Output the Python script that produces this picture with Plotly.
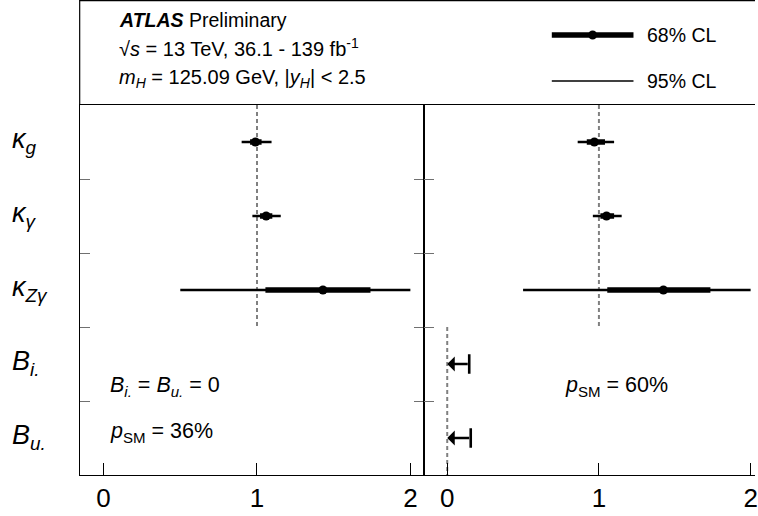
import plotly.graph_objects as go

W, H = 758, 516
FONT = "Liberation Sans, Arial, sans-serif"

# Parameter rows, top to bottom
row_labels = [
    "<i>κ</i><sub><i>g</i></sub>",
    "<i>κ</i><sub><i>γ</i></sub>",
    "<i>κ</i><sub><i>Zγ</i></sub>",
    "<i>B</i><sub><i>i.</i></sub>",
    "<i>B</i><sub><i>u.</i></sub>",
]
kappa_rows = [0, 1, 2]
br_rows = [3, 4]

# Fit with B_i. = B_u. = 0 (left panel)
fixed_best = [0.99, 1.06, 1.43]
fixed_lo68 = [0.955, 1.02, 1.055]
fixed_hi68 = [1.03, 1.10, 1.74]
fixed_lo95 = [0.90, 0.97, 0.50]
fixed_hi95 = [1.095, 1.155, 2.00]

# Fit with B_i., B_u. free (right panel)
free_best = [0.97, 1.05, 1.425]
free_lo68 = [0.92, 1.01, 1.055]
free_hi68 = [1.04, 1.10, 1.735]
free_lo95 = [0.86, 0.96, 0.50]
free_hi95 = [1.10, 1.15, 2.00]
br_limit95 = [0.145, 0.155]

x_ticks = [0, 1, 2]
x_ticktext = ["0", "1", "2"]
sm_value_kappa = 1
sm_value_br = 0


def segments(lo, hi, rows):
    xs, ys = [], []
    for a, b, r in zip(lo, hi, rows):
        xs += [a, b, None]
        ys += [r, r, None]
    return xs, ys


fig = go.Figure()

panels = [
    ("x", "y", fixed_best, fixed_lo68, fixed_hi68, fixed_lo95, fixed_hi95),
    ("x2", "y2", free_best, free_lo68, free_hi68, free_lo95, free_hi95),
]
for xa, ya, best, lo68, hi68, lo95, hi95 in panels:
    xs, ys = segments(lo95, hi95, kappa_rows)
    fig.add_trace(go.Scatter(x=xs, y=ys, xaxis=xa, yaxis=ya, mode="lines",
                             line=dict(color="black", width=2.4)))
    xs, ys = segments(lo68, hi68, kappa_rows)
    fig.add_trace(go.Scatter(x=xs, y=ys, xaxis=xa, yaxis=ya, mode="lines",
                             line=dict(color="black", width=5.5)))
    fig.add_trace(go.Scatter(x=best, y=kappa_rows, xaxis=xa, yaxis=ya, mode="markers",
                             marker=dict(color="black", size=9)))

# Upper limits on the BSM branching ratios: cap at the limit
fig.add_trace(go.Scatter(x=br_limit95, y=br_rows, xaxis="x2", yaxis="y2", mode="markers",
                         marker=dict(symbol="line-ns", size=14,
                                     line=dict(color="black", width=2.6))))

annotations = []
for lim, r in zip(br_limit95, br_rows):
    annotations.append(dict(x=sm_value_br, y=r, xref="x2", yref="y2",
                            ax=lim, ay=r, axref="x2", ayref="y2", text="",
                            showarrow=True, arrowhead=1, arrowsize=1,
                            arrowwidth=2.5, arrowcolor="black"))

# SM reference lines
shapes = []
dash = dict(color="#808080", width=2, dash="4px,3px")
for xr, yr in [("x", "y"), ("x2", "y2")]:
    shapes.append(dict(type="line", xref=xr, yref=yr, x0=sm_value_kappa, x1=sm_value_kappa,
                       y0=-0.5, y1=2.5, line=dash, layer="below"))
shapes.append(dict(type="line", xref="x2", yref="y2", x0=sm_value_br, x1=sm_value_br,
                   y0=2.5, y1=4.5, line=dash, layer="below"))


def px(x):
    return x / W


def py(y):
    return 1 - y / H


# Header box frame
shapes.append(dict(type="line", xref="paper", yref="paper", x0=px(80), x1=1,
                   y0=py(0.6), y1=py(0.6), line=dict(color="black", width=1.2)))
shapes.append(dict(type="line", xref="paper", yref="paper", x0=px(80), x1=px(80),
                   y0=py(0), y1=py(105), line=dict(color="black", width=1.2)))

# Legend samples
shapes.append(dict(type="line", xref="paper", yref="paper", x0=px(554), x1=px(636),
                   y0=py(35), y1=py(35), line=dict(color="black", width=5.5)))
shapes.append(dict(type="circle", xref="paper", yref="paper", x0=px(590.5), x1=px(599.5),
                   y0=py(39.5), y1=py(30.5), fillcolor="black", line=dict(color="black", width=0)))
shapes.append(dict(type="line", xref="paper", yref="paper", x0=px(554), x1=px(636),
                   y0=py(81), y1=py(81), line=dict(color="black", width=1.6)))


def text(s, x, y, size, anchor="left"):
    annotations.append(dict(text=s, x=px(x), y=py(y), xref="paper", yref="paper",
                            xanchor=anchor, yanchor="middle", showarrow=False,
                            font=dict(family=FONT, size=size, color="black")))


text("<b><i>ATLAS</i></b> Preliminary", 117, 20, 19.5)
text("√<i>s</i> = 13 TeV, 36.1 - 139 fb<sup>-1</sup>", 117, 48, 20)
text("<i>m</i><sub><i>H</i></sub> = 125.09 GeV, |<i>y</i><sub><i>H</i></sub>| &lt; 2.5", 117, 78, 20)
text("68% CL", 648, 35, 19.5)
text("95% CL", 648, 81, 19.5)
text("<i>B</i><sub><i>i.</i></sub> = <i>B</i><sub><i>u.</i></sub> = 0", 108, 386, 21.5)
text("<i>p</i><sub>SM</sub> = 36%", 108, 432, 21.5)
text("<i>p</i><sub>SM</sub> = 60%", 565, 386, 21.5)

# Row labels
row_y0, row_h = 105, 74
for i, lab in enumerate(row_labels):
    text(lab, 10, row_y0 + row_h * (i + 0.5) - 1, 27)

xcommon = dict(tickvals=x_ticks, ticktext=x_ticktext, ticks="inside", ticklen=12,
               tickwidth=1.3, tickcolor="black", showline=True, linecolor="black",
               linewidth=1.2, mirror=True, showgrid=False, zeroline=False,
               ticklabeloverflow="allow",
               tickfont=dict(family=FONT, size=26, color="black"))
ycommon = dict(range=[4.5, -0.5], tickvals=[0.5, 1.5, 2.5, 3.5], ticks="inside",
               ticklen=10, tickwidth=1.3, tickcolor="#707070", showticklabels=False,
               showline=True, linecolor="black", linewidth=1.2, showgrid=False,
               zeroline=False, domain=[1 - 475 / H, 1 - 105 / H])

fig.update_layout(
    width=W, height=H, autosize=False,
    margin=dict(l=0, r=0, t=0, b=0),
    paper_bgcolor="white", plot_bgcolor="white",
    showlegend=False,
    xaxis=dict(domain=[px(80), px(426)], range=[-24 / 154, 322 / 154], anchor="y", **xcommon),
    xaxis2=dict(domain=[px(426), 1], range=[-23 / 152.3, 309 / 152.3], anchor="y2", **xcommon),
    yaxis=dict(anchor="x", mirror="ticks", **ycommon),
    yaxis2=dict(anchor="x2", mirror=False, **ycommon),
    shapes=shapes,
    annotations=annotations,
)

fig.write_html("out.html")
